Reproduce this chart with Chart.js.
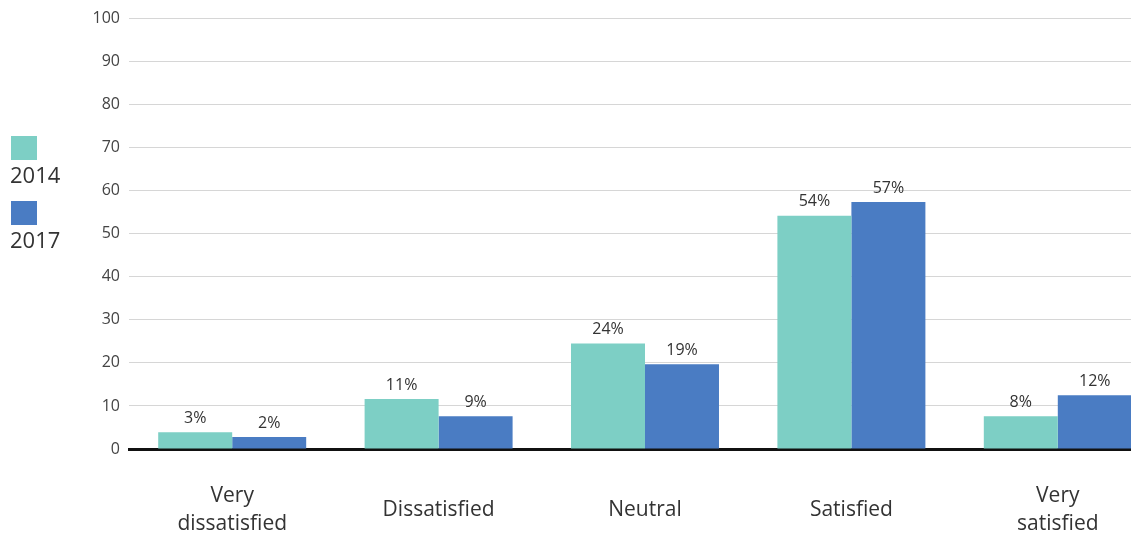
<!DOCTYPE html>
<html lang="en">
<head>
    <meta charset="UTF-8">
    <title>Satisfaction 2014 vs 2017</title>
    <script src="https://cdn.jsdelivr.net/npm/chart.js"></script>
    <style>
        html, body {
            margin: 0;
            padding: 0;
            background: #fff;
            overflow: hidden;
            font-family: "Open Sans", sans-serif;
        }
        .wrap {
            position: relative;
            width: 1170px;
            height: 537px;
        }
        .legend {
            position: absolute;
            left: 10px;
            top: 136px;
            color: #333;
            font-size: 22px;
        }
        .legend .sw {
            width: 26px;
            height: 24px;
            margin-left: 1px;
        }
        .legend .txt {
            line-height: 28px;
            margin-bottom: 13px;
        }
    </style>
</head>
<body>
    <div class="wrap">
        <canvas id="satChart" width="1170" height="537"></canvas>
        <div class="legend" id="legend"></div>
    </div>
    <script>
        const categories = [['Very', 'dissatisfied'], 'Dissatisfied', 'Neutral', 'Satisfied', ['Very', 'satisfied']];
        const years = ['2014', '2017'];
        const values2014 = [3.9, 11.6, 24.5, 54.2, 7.6];
        const values2017 = [2.8, 7.6, 19.7, 57.4, 12.5];
        const labels2014 = ['3%', '11%', '24%', '54%', '8%'];
        const labels2017 = ['2%', '9%', '19%', '57%', '12%'];
        const yTicks = [0, 10, 20, 30, 40, 50, 60, 70, 80, 90, 100];

        const colors = ['#7dcfc5', '#4a7cc3'];

        // legend on the left
        const legend = document.getElementById('legend');
        years.forEach(function(y, i) {
            legend.innerHTML += '<div class="sw" style="background:' + colors[i] + '"></div>' +
                '<div class="txt">' + y + '</div>';
        });

        // percent labels above bars
        const valueLabels = {
            id: 'valueLabels',
            afterDatasetsDraw(chart) {
                const ctx = chart.ctx;
                const texts = [labels2014, labels2017];
                ctx.save();
                ctx.font = '16px "Open Sans", sans-serif';
                ctx.fillStyle = '#333';
                ctx.textAlign = 'center';
                ctx.textBaseline = 'bottom';
                chart.data.datasets.forEach(function(ds, i) {
                    chart.getDatasetMeta(i).data.forEach(function(bar, j) {
                        ctx.fillText(texts[i][j], bar.x, bar.y - 6);
                    });
                });
                ctx.restore();
            }
        };

        new Chart(document.getElementById('satChart'), {
            type: 'bar',
            data: {
                labels: categories,
                datasets: [
                    { label: years[0], data: values2014, backgroundColor: colors[0] },
                    { label: years[1], data: values2017, backgroundColor: colors[1] }
                ]
            },
            options: {
                responsive: false,
                animation: false,
                layout: { padding: { left: 0, right: 9, top: 8, bottom: 0 } },
                barPercentage: 1,
                categoryPercentage: 0.717,
                plugins: {
                    legend: { display: false },
                    tooltip: { enabled: false }
                },
                scales: {
                    x: {
                        afterFit(scale) { scale.height = 88; },
                        grid: { display: false },
                        border: { display: true, color: '#111', width: 3 },
                        ticks: {
                            color: '#333',
                            padding: 39,
                            crossAlign: 'center',
                            maxRotation: 0,
                            font: { family: '"Open Sans", sans-serif', size: 21, lineHeight: 1.33 }
                        }
                    },
                    y: {
                        min: 0,
                        max: 100,
                        afterBuildTicks(scale) {
                            scale.ticks = yTicks.map(function(v) { return { value: v }; });
                        },
                        afterFit(scale) { scale.width = 129; },
                        border: { display: false },
                        grid: { color: '#d6d6d6', lineWidth: 1, drawTicks: false },
                        ticks: {
                            color: '#444',
                            padding: 9,
                            font: { family: '"Open Sans", sans-serif', size: 16 }
                        }
                    }
                }
            },
            plugins: [valueLabels]
        });
    </script>
</body>
</html>
